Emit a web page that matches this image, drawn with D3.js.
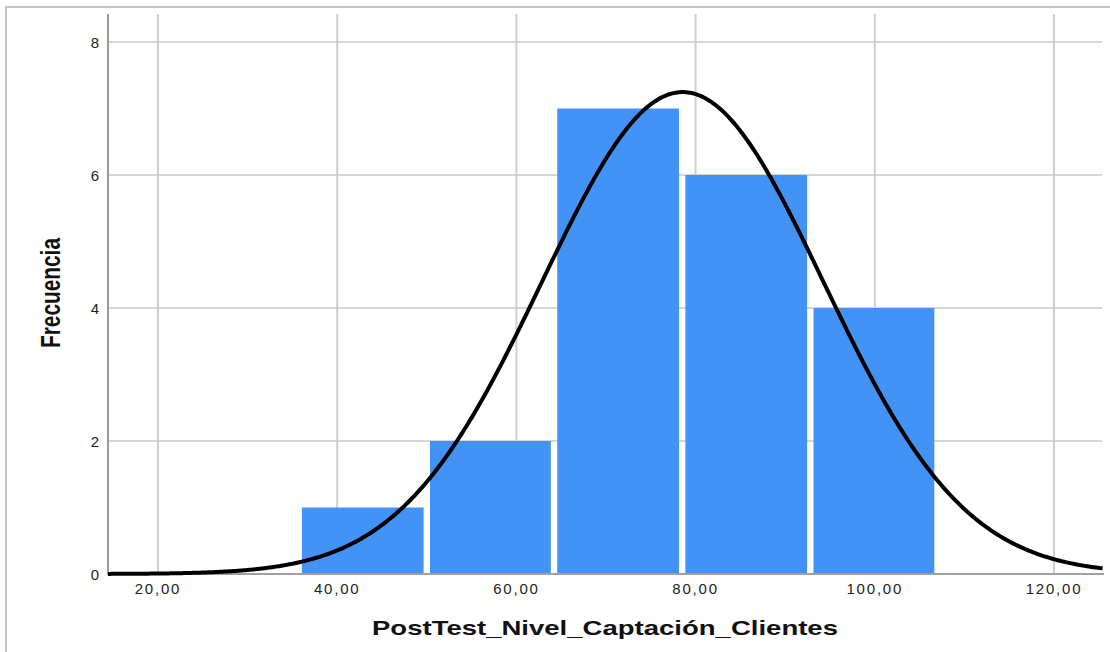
<!DOCTYPE html>
<html>
<head>
<meta charset="utf-8">
<script src="https://cdn.jsdelivr.net/npm/d3@7"></script>
<style>
  html, body { margin: 0; padding: 0; background: #fff; }
  svg { display: block; }
</style>
</head>
<body>
<svg id="chart" width="1110" height="652"></svg>
<script>
// Histogram bins (edges) and frequencies
const binEdges = [35.7, 50.0, 64.2, 78.5, 92.8, 107.0];
const frequencies = [1, 2, 7, 6, 4];

// Normal curve parameters
const curveMean = 78.56;
const curveSD = 15.7;
const curveN = 20;

// Axis ticks
const xTicks = [20, 40, 60, 80, 100, 120];
const yTicks = [0, 2, 4, 6, 8];

const xTitle = "PostTest_Nivel_Captación_Clientes";
const yTitle = "Frecuencia";

const svg = d3.select("#chart");
const plotLeft = 108, plotRight = 1104, plotTop = 14, plotBottom = 574;

const x = d3.scaleLinear().domain([14.42, 125.58]).range([plotLeft, plotRight]);
const y = d3.scaleLinear().domain([0, 8]).range([plotBottom, 42]);

// outer frame
svg.append("rect")
  .attr("x", 6).attr("y", 7).attr("width", 1200).attr("height", 700)
  .attr("fill", "none").attr("stroke", "#c4c4c4").attr("stroke-width", 2);

// grid lines
svg.append("g").selectAll("line").data(xTicks).join("line")
  .attr("x1", d => x(d)).attr("x2", d => x(d))
  .attr("y1", plotTop).attr("y2", plotBottom)
  .attr("stroke", "#cfcfcf").attr("stroke-width", 2);

svg.append("g").selectAll("line").data(yTicks.filter(d => d > 0)).join("line")
  .attr("x1", plotLeft).attr("x2", 1102)
  .attr("y1", d => y(d)).attr("y2", d => y(d))
  .attr("stroke", "#c8c8c8").attr("stroke-width", 1.5);

// bars
const bins = frequencies.map((f, i) => ({ x0: binEdges[i], x1: binEdges[i + 1], f }));
svg.append("g").selectAll("rect").data(bins).join("rect")
  .attr("x", d => x(d.x0) + 3.2)
  .attr("width", d => x(d.x1) - x(d.x0) - 6.4)
  .attr("y", d => y(d.f))
  .attr("height", d => y(0) - y(d.f))
  .attr("fill", "#4392f5");

// axis lines
svg.append("line")
  .attr("x1", plotLeft).attr("x2", 1104).attr("y1", plotBottom).attr("y2", plotBottom)
  .attr("stroke", "#a0a0a0").attr("stroke-width", 2);
svg.append("line")
  .attr("x1", plotLeft).attr("x2", plotLeft).attr("y1", plotTop).attr("y2", plotBottom + 1)
  .attr("stroke", "#999").attr("stroke-width", 2);

// normal curve
const binWidth = (binEdges[binEdges.length - 1] - binEdges[0]) / frequencies.length;
const density = v => curveN * binWidth / (curveSD * Math.sqrt(2 * Math.PI)) *
  Math.exp(-0.5 * Math.pow((v - curveMean) / curveSD, 2));
const xs = d3.range(x.domain()[0], x.domain()[1] + 0.001, 0.25);
svg.append("path")
  .datum(xs)
  .attr("d", d3.line().x(d => x(d)).y(d => y(density(d))).curve(d3.curveBasis))
  .attr("fill", "none").attr("stroke", "#000").attr("stroke-width", 4);

// tick labels
const fmt = v => v.toFixed(2).replace(".", ",");
svg.append("g").selectAll("text").data(xTicks).join("text")
  .attr("x", d => x(d)).attr("y", 594)
  .attr("text-anchor", "middle")
  .attr("font-family", "Liberation Sans, Arial, sans-serif")
  .attr("font-size", 15).attr("fill", "#222")
  .attr("letter-spacing", 1.8)
  .text(fmt);

svg.append("g").selectAll("text").data(yTicks).join("text")
  .attr("x", 99).attr("y", d => y(d) + 5.5)
  .attr("text-anchor", "end")
  .attr("font-family", "Liberation Sans, Arial, sans-serif")
  .attr("font-size", 15).attr("fill", "#222")
  .text(d => d);

// axis titles
svg.append("text")
  .attr("x", 605).attr("y", 635)
  .attr("text-anchor", "middle")
  .attr("font-family", "Liberation Sans, Arial, sans-serif")
  .attr("font-weight", "bold").attr("font-size", 21).attr("fill", "#111")
  .attr("textLength", 466).attr("lengthAdjust", "spacingAndGlyphs")
  .text(xTitle);

svg.append("text")
  .attr("transform", "translate(60,293) rotate(-90)")
  .attr("text-anchor", "middle")
  .attr("font-family", "Liberation Sans, Arial, sans-serif")
  .attr("font-weight", "bold").attr("font-size", 27).attr("fill", "#111")
  .attr("textLength", 110).attr("lengthAdjust", "spacingAndGlyphs")
  .text(yTitle);
</script>
</body>
</html>
